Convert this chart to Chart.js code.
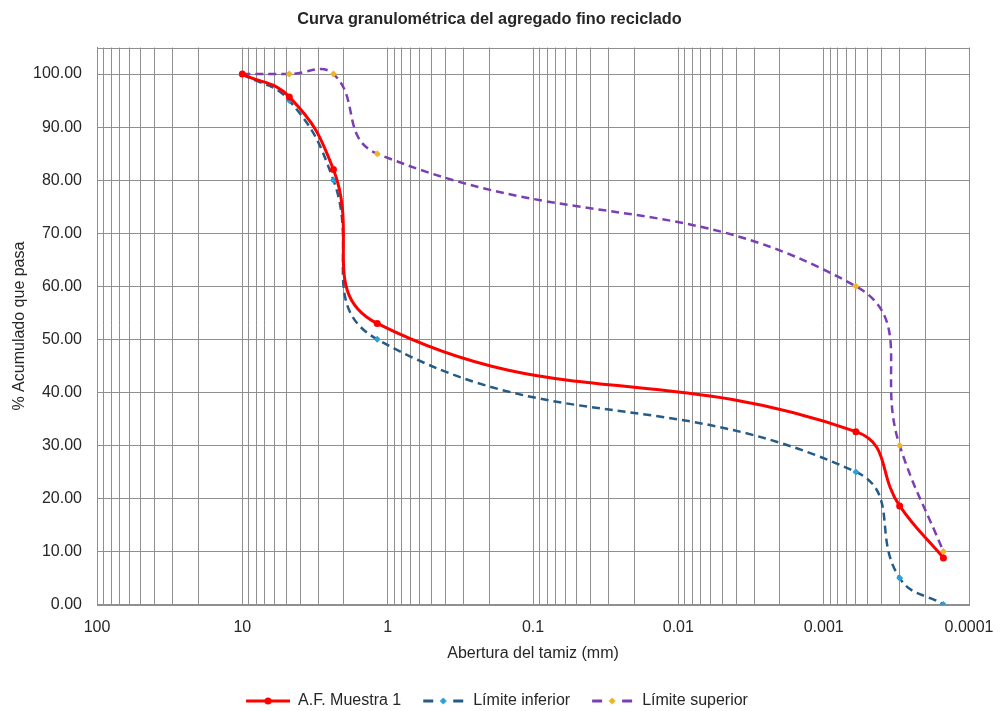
<!DOCTYPE html>
<html>
<head>
<meta charset="utf-8">
<script src="https://cdn.jsdelivr.net/npm/chart.js@4.4.1/dist/chart.umd.min.js"></script>
<style>
html, body { margin: 0; padding: 0; background: #fff; }
</style>
</head>
<body>
<canvas id="chart" width="1001" height="711"></canvas>
<script>
// sieve openings (mm) and % passing
const sieveSizes = [10, 4.75, 2.36, 1.18, 0.0006, 0.0003, 0.00015];
const muestra1 = [100, 95.7, 82.0, 53.0, 32.6, 18.6, 8.8];
const limiteInferior = [100, 95, 80, 50, 25, 5, 0];
const limiteSuperior = [100, 100, 100, 85, 60, 30, 10];
const xTickLabels = ['100', '10', '1', '0.1', '0.01', '0.001', '0.0001'];
const yTickValues = [0, 10, 20, 30, 40, 50, 60, 70, 80, 90, 100];

const FONT = "Arial, 'Liberation Sans', sans-serif";
const TEXT = '#262626';
const GRID = '#8f8f8f';

const toPoints = ys => sieveSizes.map((x, i) => ({ x: x, y: ys[i] }));

// legend glyph: line sample with marker in the middle (blank strip on the left = gap to previous item)
const GAP = 15;
const makeGlyph = (color, dash, marker, markerColor) => {
    const c = document.createElement('canvas');
    c.width = 44 + GAP; c.height = 12;
    const g = c.getContext('2d');
    g.translate(GAP, 0);
    g.strokeStyle = color;
    g.lineWidth = 3;
    if (dash) {
        g.beginPath(); g.moveTo(2, 6); g.lineTo(12, 6); g.stroke();
        g.beginPath(); g.moveTo(32, 6); g.lineTo(42, 6); g.stroke();
    } else {
        g.beginPath(); g.moveTo(0, 6); g.lineTo(44, 6); g.stroke();
    }
    g.fillStyle = markerColor;
    g.beginPath();
    if (marker === 'circle') {
        g.arc(22, 6, 3.5, 0, Math.PI * 2);
    } else {
        g.moveTo(22, 2.5); g.lineTo(25.5, 6); g.lineTo(22, 9.5); g.lineTo(18.5, 6); g.closePath();
    }
    g.fill();
    return c;
};

const xTickValues = [];
for (let e = -4; e <= 1; e++) {
    for (let k = 1; k <= 9; k++) xTickValues.push(k * Math.pow(10, e));
}
xTickValues.push(100);
const majorX = xTickLabels.map(Number);

const frame = {
    id: 'frame',
    afterDraw(chart) {
        const a = chart.chartArea, ctx = chart.ctx;
        ctx.save();
        ctx.strokeStyle = GRID;
        ctx.lineWidth = 1;
        ctx.strokeRect(Math.round(a.left) + 0.5, Math.round(a.top) + 0.5,
            Math.round(a.right - a.left), Math.round(a.bottom - a.top));
        ctx.restore();
    }
};

const datasets = [
    {
        label: 'A.F. Muestra 1',
        data: toPoints(muestra1),
        borderColor: '#FF0000',
        backgroundColor: '#FF0000',
        borderWidth: 3,
        pointStyle: 'circle',
        pointRadius: 3.5,
        pointBorderWidth: 0,
        glyph: makeGlyph('#FF0000', false, 'circle', '#FF0000')
    },
    {
        label: 'Límite inferior',
        data: toPoints(limiteInferior),
        borderColor: '#245B87',
        backgroundColor: '#2A9FD8',
        borderWidth: 2.5,
        borderDash: [8, 5],
        pointStyle: 'rectRot',
        pointRadius: 3.5,
        pointBorderWidth: 0,
        glyph: makeGlyph('#245B87', true, 'diamond', '#2A9FD8')
    },
    {
        label: 'Límite superior',
        data: toPoints(limiteSuperior),
        borderColor: '#7B3FB5',
        backgroundColor: '#F0B323',
        borderWidth: 2.5,
        borderDash: [8, 5],
        pointStyle: 'rectRot',
        pointRadius: 3.5,
        pointBorderWidth: 0,
        glyph: makeGlyph('#7B3FB5', true, 'diamond', '#F0B323')
    }
];

new Chart(document.getElementById('chart'), {
    type: 'line',
    data: { datasets: datasets },
    plugins: [frame],
    options: {
        responsive: false,
        animation: false,
        devicePixelRatio: 1,
        layout: { padding: { left: 10, right: 32, top: 6, bottom: -8 } },
        elements: { line: { tension: 0.45, fill: false } },
        plugins: {
            title: {
                display: true,
                text: 'Curva granulométrica del agregado fino reciclado',
                color: TEXT,
                font: { family: FONT, size: 16.3, weight: 'bold' },
                padding: { top: 4, bottom: 18 }
            },
            legend: {
                position: 'bottom',
                labels: {
                    color: TEXT,
                    font: { family: FONT, size: 16 },
                    usePointStyle: true,
                    pointStyleWidth: 44 + GAP,
                    padding: 5,
                    generateLabels: chart => chart.data.datasets.map((ds, i) => ({
                        text: ds.label,
                        pointStyle: ds.glyph,
                        fontColor: TEXT,
                        datasetIndex: i,
                        lineWidth: 0
                    }))
                }
            },
            tooltip: { enabled: false }
        },
        scales: {
            x: {
                type: 'logarithmic',
                reverse: true,
                min: 0.0001,
                max: 100,
                afterBuildTicks: scale => { scale.ticks = xTickValues.map(v => ({ value: v })); },
                grid: { color: GRID, drawTicks: false },
                border: { color: GRID },
                ticks: {
                    autoSkip: false,
                    maxRotation: 0,
                    padding: 13,
                    color: TEXT,
                    font: { family: FONT, size: 16 },
                    callback: value => {
                        const idx = majorX.findIndex(m => Math.abs(m - value) / m < 1e-6);
                        return idx >= 0 ? xTickLabels[idx] : '';
                    }
                },
                title: {
                    display: true,
                    text: 'Abertura del tamiz (mm)',
                    color: TEXT,
                    font: { family: FONT, size: 16 },
                    padding: { top: -6, bottom: 25 }
                }
            },
            y: {
                min: 0,
                max: 105,
                afterBuildTicks: scale => { scale.ticks = yTickValues.map(v => ({ value: v })); },
                afterFit: scale => { scale.width = 87; },
                grid: { color: GRID, drawTicks: false },
                border: { color: GRID },
                ticks: {
                    padding: 15,
                    color: TEXT,
                    font: { family: FONT, size: 16 },
                    callback: value => value.toFixed(2)
                },
                title: {
                    display: true,
                    text: '% Acumulado que pasa',
                    color: TEXT,
                    font: { family: FONT, size: 16 },
                    padding: 0
                }
            }
        }
    }
});
</script>
</body>
</html>
